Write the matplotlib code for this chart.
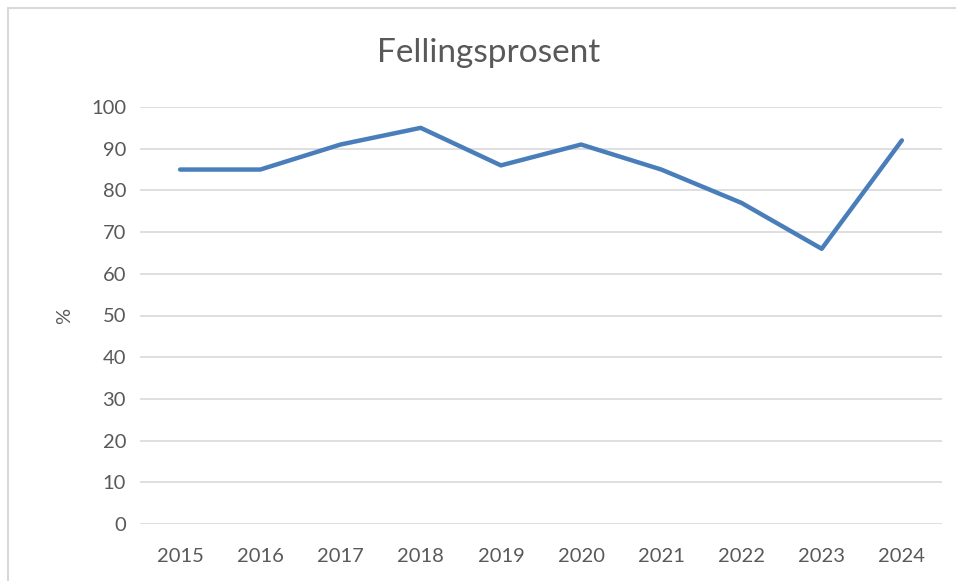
import matplotlib
matplotlib.use("Agg")
import matplotlib.pyplot as plt
from matplotlib.patches import Rectangle

years = ["2015", "2016", "2017", "2018", "2019", "2020", "2021", "2022", "2023", "2024"]
values = [85, 85, 91, 95, 86, 91, 85, 77, 66, 92]
yticks = [0, 10, 20, 30, 40, 50, 60, 70, 80, 90, 100]

plt.rcParams['font.family'] = ['Lato', 'DejaVu Sans']
W, H = 956, 581
fig = plt.figure(figsize=(W/100, H/100), dpi=100)
ax = fig.add_axes([140/W, 1-524/H, 802/W, (524-107)/H])

x = list(range(len(years)))
ax.plot(x, values, color='#4A7EBB', linewidth=3.2, solid_capstyle='round', solid_joinstyle='round', zorder=3)
ax.set_xlim(-0.5, len(years)-0.5)
ax.set_ylim(0, 100)
ax.set_yticks(yticks)
ax.set_xticks(x)
ax.set_xticklabels(years)
ax.grid(axis='y', color='#D9D9D9', linewidth=1.2)
ax.set_axisbelow(True)
for s in ax.spines.values():
    s.set_visible(False)
ax.tick_params(length=0, labelsize=14.5, colors='#595959', pad=10)
ax.tick_params(axis='x', pad=17)
ax.set_ylabel('%', fontsize=14.5, color='#595959', labelpad=13)
fig.text(489/W, 1-53/H, 'Fellingsprosent', ha='center', va='center', fontsize=24, color='#595959')

fig.patches.append(Rectangle((8/W, -0.1), 1.2, 1.1-8/H, transform=fig.transFigure,
                             fill=False, edgecolor='#D9D9D9', linewidth=1.5))
fig.savefig('out.png', dpi=100)
